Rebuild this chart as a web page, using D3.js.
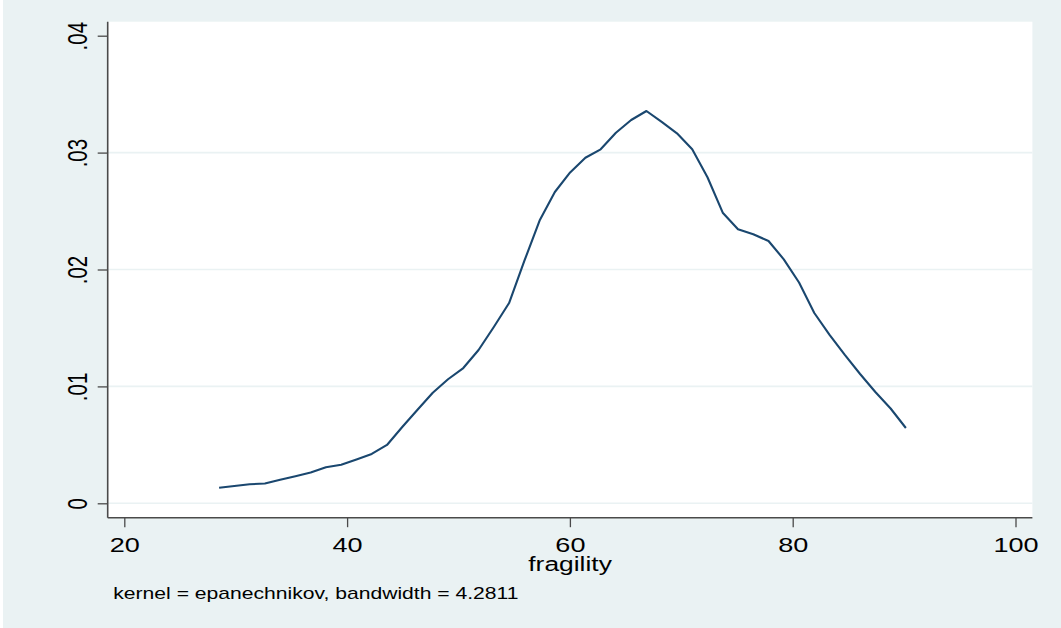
<!DOCTYPE html>
<html>
<head>
<meta charset="utf-8">
<script src="https://cdn.jsdelivr.net/npm/d3@7"></script>
<style>
  html, body { margin: 0; padding: 0; background: #ffffff; }
  svg { display: block; }
  text { font-family: "Liberation Sans", Arial, Helvetica, sans-serif; fill: #000; }
</style>
</head>
<body>
<svg id="chart" width="1061" height="628"></svg>
<script>
// Kernel density estimate of fragility (Epanechnikov kernel)
const fragility = [
  28.51, 29.88, 31.25, 32.62, 33.99, 35.36, 36.73, 38.10, 39.47, 40.84,
  42.21, 43.58, 44.95, 46.32, 47.69, 49.06, 50.43, 51.80, 53.17, 54.54,
  55.91, 57.28, 58.65, 60.02, 61.39, 62.76, 64.13, 65.50, 66.87, 68.24,
  69.61, 70.98, 72.35, 73.72, 75.09, 76.46, 77.83, 79.20, 80.57, 81.94,
  83.31, 84.68, 86.05, 87.42, 88.79, 90.16
];
const density = [
  0.00133, 0.00148, 0.00163, 0.00169, 0.00201, 0.00231, 0.00263, 0.00308, 0.00330, 0.00375,
  0.00422, 0.00499, 0.00653, 0.00800, 0.00946, 0.01061, 0.01157, 0.01311, 0.01508, 0.01713,
  0.02073, 0.02419, 0.02663, 0.02830, 0.02956, 0.03028, 0.03170, 0.03279, 0.03356, 0.03262,
  0.03165, 0.03028, 0.02789, 0.02486, 0.02344, 0.02301, 0.02244, 0.02087, 0.01889, 0.01628,
  0.01440, 0.01269, 0.01106, 0.00952, 0.00811, 0.00644
];
const xTicks = [20, 40, 60, 80, 100];
const xTickLabels = ["20", "40", "60", "80", "100"];
const yTicks = [0, 0.01, 0.02, 0.03, 0.04];
const yTickLabels = ["0", ".01", ".02", ".03", ".04"];
const gridValues = [0, 0.01, 0.02, 0.03];
const xTitle = "fragility";
const note = "kernel = epanechnikov, bandwidth = 4.2811";

const W = 1061, H = 628;
const region = { left: 107.7, right: 1032.4, top: 21.7, bottom: 517.7 };
const stretch = 1.32; // horizontal glyph stretch of the exported graph

const svg = d3.select("#chart");

// graph region
svg.append("rect").attr("x", 0).attr("y", 0).attr("width", W).attr("height", H)
  .attr("fill", "#eaf2f3");
svg.append("rect").attr("x", 0).attr("y", 0).attr("width", 3).attr("height", H)
  .attr("fill", "#ffffff");

// plot region
svg.append("rect")
  .attr("x", region.left).attr("y", region.top)
  .attr("width", region.right - region.left).attr("height", region.bottom - region.top)
  .attr("fill", "#ffffff");

const x = d3.scaleLinear().domain([20, 100]).range([124.3, 1015.5]);
const y = d3.scaleLinear().domain([0, 0.04]).range([503.3, 35.7]);

// grid lines
svg.append("g").selectAll("line").data(gridValues).join("line")
  .attr("x1", region.left).attr("x2", region.right)
  .attr("y1", d => y(d)).attr("y2", d => y(d))
  .attr("stroke", "#eaf2f3").attr("stroke-width", 1.6);

// density curve
const line = d3.line().x((d, i) => x(fragility[i])).y(d => y(d));
svg.append("path").datum(density)
  .attr("d", line)
  .attr("fill", "none")
  .attr("stroke", "#1a476f")
  .attr("stroke-width", 2.1)
  .attr("stroke-linejoin", "round");

// y axis
const yAxis = svg.append("g")
  .attr("transform", `translate(${region.left},0)`)
  .call(d3.axisLeft(y).tickValues(yTicks).tickSize(10).tickPadding(0)
    .tickFormat((d, i) => yTickLabels[i]));
yAxis.select(".domain").remove();
yAxis.selectAll(".tick line").attr("stroke", "#4a4a4a").attr("stroke-width", 1.3);
yAxis.selectAll(".tick text")
  .attr("x", null).attr("dy", null)
  .attr("text-anchor", "middle")
  .attr("font-size", 20.5)
  .attr("font-family", "Liberation Sans, Arial, sans-serif")
  .attr("fill", "#000")
  .attr("transform", `translate(${86.7 - region.left},0) scale(${stretch},1) rotate(-90)`);

// x axis
const xAxis = svg.append("g")
  .attr("transform", `translate(0,${region.bottom})`)
  .call(d3.axisBottom(x).tickValues(xTicks).tickSize(9.5).tickPadding(0)
    .tickFormat((d, i) => xTickLabels[i]));
xAxis.select(".domain").remove();
xAxis.selectAll(".tick line").attr("stroke", "#4a4a4a").attr("stroke-width", 1.3);
xAxis.selectAll(".tick text")
  .attr("y", null).attr("dy", null)
  .attr("text-anchor", "middle")
  .attr("font-size", 20.5)
  .attr("font-family", "Liberation Sans, Arial, sans-serif")
  .attr("fill", "#000")
  .attr("transform", `translate(0,34) scale(${stretch},1)`);

// axis lines
svg.append("line")
  .attr("x1", region.left).attr("x2", region.left)
  .attr("y1", region.top).attr("y2", region.bottom)
  .attr("stroke", "#4a4a4a").attr("stroke-width", 1.6);
svg.append("line")
  .attr("x1", region.left).attr("x2", region.right)
  .attr("y1", region.bottom).attr("y2", region.bottom)
  .attr("stroke", "#4a4a4a").attr("stroke-width", 1.6);

// axis title
svg.append("text")
  .attr("text-anchor", "middle")
  .attr("font-size", 20)
  .attr("transform", `translate(${(region.left + region.right) / 2},570.5) scale(${stretch},1)`)
  .text(xTitle);

// note
svg.append("text")
  .attr("text-anchor", "start")
  .attr("font-size", 16)
  .attr("transform", `translate(113.3,599.3) scale(${stretch},1)`)
  .text(note);
</script>
</body>
</html>
